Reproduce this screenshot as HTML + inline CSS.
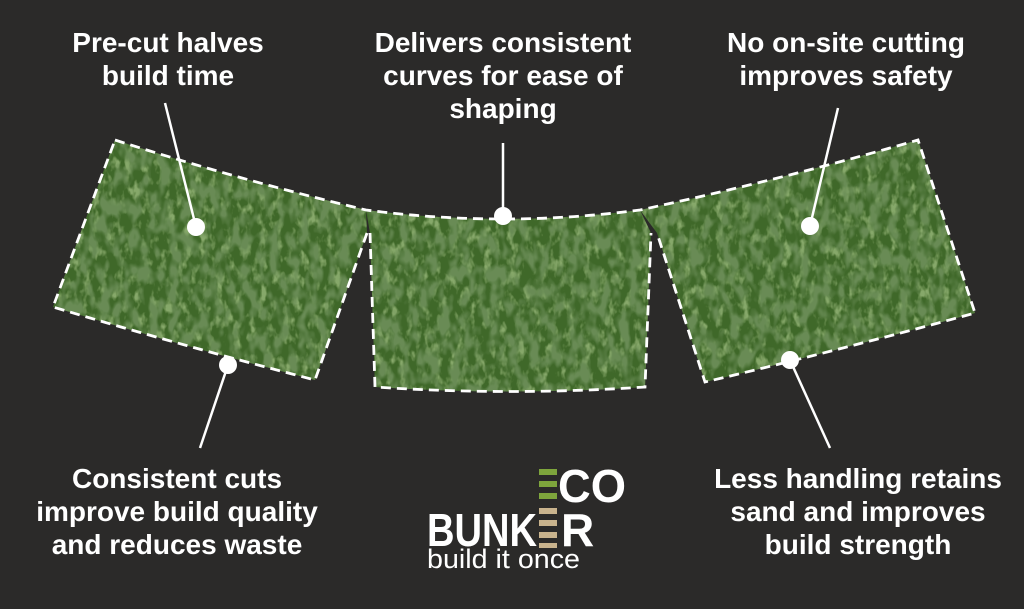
<!DOCTYPE html>
<html><head><style>
html,body{margin:0;padding:0;background:#2b2a29;}
body{width:1024px;height:609px;position:relative;overflow:hidden;font-family:"Liberation Sans",sans-serif;}
.t{position:absolute;color:#fff;font-weight:bold;font-size:28px;line-height:33px;text-align:center;white-space:nowrap;transform:translateX(-50%);}
</style></head><body>
<svg width="1024" height="609" style="position:absolute;left:0;top:0">
<defs>
<filter id="g" x="0" y="0" width="100%" height="100%">
<feTurbulence type="fractalNoise" baseFrequency="0.12 0.07" numOctaves="3" seed="4"/>
<feColorMatrix type="matrix" values="0 0 0 0 0.38  0 0 0 0 0.55  0 0 0 0 0.24  0 0 0 -4 2.0"/>
</filter>
<filter id="d" x="0" y="0" width="100%" height="100%">
<feTurbulence type="fractalNoise" baseFrequency="0.1 0.06" numOctaves="2" seed="11"/>
<feColorMatrix type="matrix" values="0 0 0 0 0.14  0 0 0 0 0.26  0 0 0 0 0.09  0 0 0 -4 2.3"/>
</filter>
</defs>
<clipPath id="c"><path d="M115,140 Q240,180 366,210 L367,233 L315,380 Q180,345 53,307 Z M366,210 Q503,228 640,210 L651,233 L645,387 Q510,396 375,387 L370,233 Z M640,210 Q780,180 918,140 L975,313 Q840,350 705,382 L657,233 Z"/></clipPath>
<rect x="40" y="130" width="950" height="270" fill="#3f6829" clip-path="url(#c)"/>
<rect x="40" y="130" width="950" height="270" filter="url(#g)" clip-path="url(#c)" opacity="0.7"/>
<rect x="40" y="130" width="950" height="270" filter="url(#d)" clip-path="url(#c)"/>
<g fill="none" stroke="#fff" stroke-width="2.8" stroke-dasharray="10 6">
<path d="M115,140 Q240,180 366,210 Q503,228 640,210 Q780,180 918,140 L975,313 Q840,350 705,382 L657,233"/>
<path d="M367,233 L315,380 Q180,345 53,307 L115,140"/>
<path d="M370,233 L375,387 Q510,396 645,387 L651,233"/>
</g>
<g stroke="#fff" stroke-width="2.5">
<line x1="165" y1="103" x2="196" y2="227"/>
<line x1="503" y1="143" x2="503" y2="216"/>
<line x1="838" y1="108" x2="810" y2="226"/>
<line x1="228" y1="365" x2="200" y2="448"/>
<line x1="790" y1="360" x2="830" y2="448"/>
</g>
<g fill="#fff">
<circle cx="196" cy="227" r="9"/><circle cx="503" cy="216" r="9"/><circle cx="810" cy="226" r="9"/>
<circle cx="228" cy="365" r="9"/><circle cx="790" cy="360" r="9"/>
</g>
<g fill="#7ea53c">
<rect x="539" y="469" width="18" height="6"/><rect x="539" y="481" width="18" height="6"/><rect x="539" y="493" width="18" height="6"/>
</g>
<g fill="#c9b38d">
<rect x="539" y="508" width="18" height="6"/><rect x="539" y="520" width="18" height="6"/><rect x="539" y="532" width="18" height="6"/><rect x="539" y="543" width="18" height="5"/>
</g>
<text x="558" y="502" fill="#fff" font-family="Liberation Sans" font-weight="bold" font-size="46" textLength="68" lengthAdjust="spacingAndGlyphs">CO</text>
<text x="427" y="546" fill="#fff" font-family="Liberation Sans" font-weight="bold" font-size="46" textLength="110" lengthAdjust="spacingAndGlyphs">BUNK</text>
<text x="561" y="546" fill="#fff" font-family="Liberation Sans" font-weight="bold" font-size="46">R</text>
<text x="427" y="568" fill="#fff" font-family="Liberation Sans" font-size="27" textLength="153" lengthAdjust="spacingAndGlyphs">build it once</text>
</svg>
<div class="t" style="left:168px;top:26px">Pre-cut halves<br>build time</div>
<div class="t" style="left:503px;top:26px">Delivers consistent<br>curves for ease of<br>shaping</div>
<div class="t" style="left:846px;top:26px">No on-site cutting<br>improves safety</div>
<div class="t" style="left:177px;top:462px">Consistent cuts<br>improve build quality<br>and reduces waste</div>
<div class="t" style="left:858px;top:462px">Less handling retains<br>sand and improves<br>build strength</div>
</body></html>
